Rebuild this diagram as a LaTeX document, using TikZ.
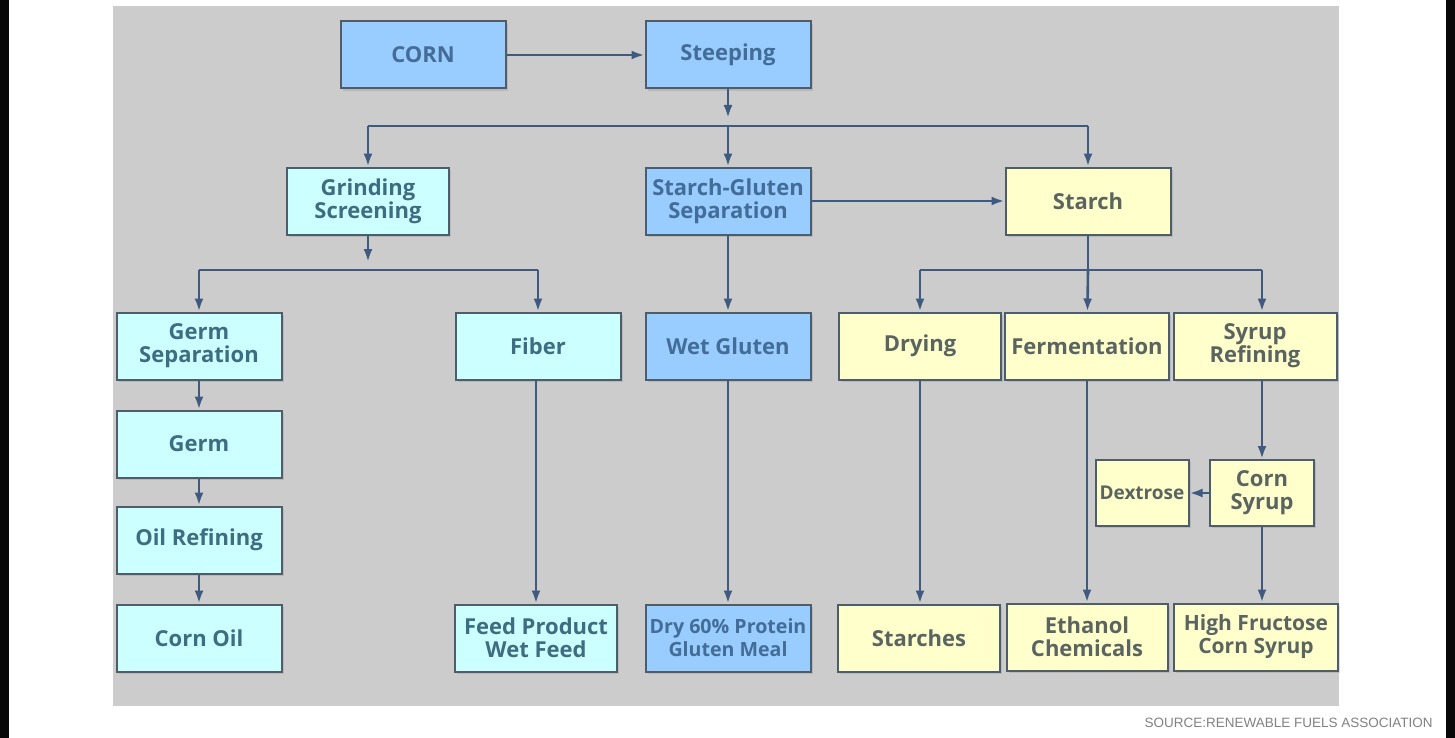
\documentclass[tikz,border=0pt]{standalone}
\usepackage{fontspec}
\setmainfont{Open Sans}
\newfontfamily\srcfont{Liberation Sans}
\usetikzlibrary{positioning,arrows.meta,shadows}

\definecolor{panelgray}{HTML}{CCCCCC}
\definecolor{boxline}{HTML}{4E5D6C}
\definecolor{flowline}{HTML}{3F5A80}
\definecolor{boxblue}{HTML}{99CCFF}
\definecolor{boxcyan}{HTML}{CCFFFF}
\definecolor{boxyellow}{HTML}{FFFFCC}
\definecolor{textblue}{HTML}{436C96}
\definecolor{textcyan}{HTML}{3C6E82}
\definecolor{textyellow}{HTML}{5A6460}
\definecolor{srcgray}{HTML}{828282}
\definecolor{edgebar}{HTML}{080808}

\begin{document}
\begin{tikzpicture}[
  x=0.5pt, y=-0.5pt,
  procbox/.style={
        draw=boxline,
        line width=1pt,
        rectangle,
        minimum width=82.5pt,
        minimum height=33.5pt,
        inner sep=0.5pt,
        align=center,
        font=\bfseries\fontsize{11}{11.5}\selectfont,
        drop shadow={shadow xshift=1.2pt, shadow yshift=-1.2pt, opacity=0.25}
  },
  bluebox/.style={procbox, fill=boxblue, text=textblue},
  cyanbox/.style={procbox, fill=boxcyan, text=textcyan},
  yellowbox/.style={procbox, fill=boxyellow, text=textyellow},
  flow/.style={line width=1.3pt, draw=flowline, -{Latex[length=6.5pt,width=4.5pt]}},
  link/.style={line width=1.3pt, draw=flowline}
]

    \fill[white] (0,0) rectangle (1455,738);
    \fill[edgebar] (0,0) rectangle (9,738);
    \fill[edgebar] (1446,0) rectangle (1455,738);
    \fill[panelgray] (113,6) rectangle (1339,706);

    \node[bluebox] (corn) at (423,55) {CORN};
    \node[bluebox] (steep) at (728,55) {Steeping};

    \node[cyanbox, minimum width=81pt] (grind) at (368,201) {Grinding\\Screening};
    \node[bluebox] (sgsep) at (728,201) {Starch-Gluten\\Separation};
    \node[yellowbox] (starch) at (1088,201) {Starch};

    \node[cyanbox] (germsep) at (199,346) {Germ\\Separation};
    \node[cyanbox] (fiber) at (538,346) {Fiber};
    \node[bluebox] (wetgluten) at (728,346) {Wet Gluten};
    \node[yellowbox, minimum width=81pt] (drying) at (920,346) {Drying};
    \node[yellowbox, minimum width=82pt] (ferment) at (1087,346) {Fermentation};
    \node[yellowbox, minimum width=81.5pt] (syrupref) at (1255,346) {Syrup\\Refining};

    \node[cyanbox] (germ) at (199,444) {Germ};
    \node[cyanbox] (oilref) at (199,540) {Oil Refining};

    \node[yellowbox, minimum width=46.5pt, minimum height=33pt, font=\bfseries\fontsize{9.5}{11}\selectfont] (dextrose) at (1142,493) {Dextrose};
    \node[yellowbox, minimum width=52pt, minimum height=33pt] (cornsyrup) at (1262,493) {Corn\\Syrup};

    \node[cyanbox] (cornoil) at (199,638) {Corn Oil};
    \node[cyanbox, minimum width=81pt] (feed) at (536,638) {Feed Product\\Wet Feed};
    \node[bluebox, inner sep=0pt, font=\bfseries\fontsize{9.8}{11.5}\selectfont] (glutenmeal) at (728,638) {Dry 60\% Protein\\Gluten Meal};
    \node[yellowbox, minimum width=81pt] (starches) at (919,638) {Starches};
    \node[yellowbox, minimum width=80.5pt] (ethanol) at (1087,637) {Ethanol\\Chemicals};
    \node[yellowbox, minimum width=82pt, font=\bfseries\fontsize{10.5}{11.5}\selectfont] (hfcs) at (1256,637) {High Fructose\\Corn Syrup};

    \coordinate (busA) at (728,126);
    \coordinate (busB) at (368,270);
    \coordinate (busC) at (1088,270);

    \draw[flow] (corn) -- (steep);
    \draw[flow, shorten >=4pt] (steep) -- (busA);
    \draw[link] (grind.north |- busA) -- (starch.north |- busA);
    \draw[flow] (busA) -- (sgsep);
    \draw[flow] (grind.north |- busA) -- (grind);
    \draw[flow] (starch.north |- busA) -- (starch);
    \draw[flow] (sgsep) -- (starch);

    \draw[flow, shorten >=4pt] (grind) -- (busB);
    \draw[link] (germsep.north |- busB) -- (fiber.north |- busB);
    \draw[flow] (germsep.north |- busB) -- (germsep);
    \draw[flow] (fiber.north |- busB) -- (fiber);
    \draw[flow] (sgsep) -- (wetgluten);

    \draw[link] (starch) -- (busC);
    \draw[link] (drying.north |- busC) -- (cornsyrup.north |- busC);
    \draw[flow] (drying.north |- busC) -- (drying);
    \draw[flow] (busC) -- (ferment);
    \draw[flow] (cornsyrup.north |- busC) -- (cornsyrup.north |- syrupref.north);

    \draw[flow] (germsep) -- (germ);
    \draw[flow] (germ) -- (oilref);
    \draw[flow] (oilref) -- (cornoil);
    \draw[flow] (fiber.south -| feed.north) -- (feed);
    \draw[flow] (wetgluten) -- (glutenmeal);
    \draw[flow] (drying) -- (drying.south |- starches.north);
    \draw[flow] (ferment) -- (ferment.south |- ethanol.north);
    \draw[flow] (syrupref.south -| cornsyrup.north) -- (cornsyrup);
    \draw[flow] (cornsyrup) -- (dextrose);
    \draw[flow] (cornsyrup.south) -- (cornsyrup.south |- hfcs.north);

    \node[anchor=base east, inner sep=0pt, text=srcgray, font=\srcfont\fontsize{6.75}{8}\selectfont] (source) at (1433,727) {SOURCE:RENEWABLE FUELS ASSOCIATION};
\end{tikzpicture}
\end{document}
